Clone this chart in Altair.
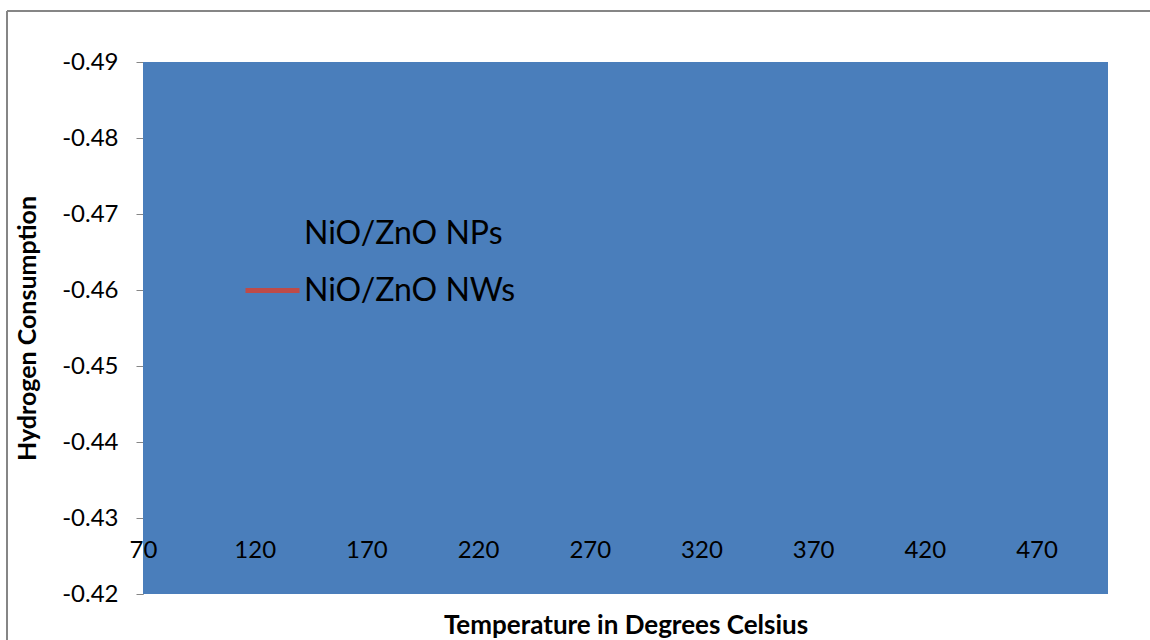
import altair as alt
import pandas as pd

# Data (series lie outside the visible window; only the fill and legend show)
temps = [70, 120, 170, 220, 270, 320, 370, 420, 470, 502]
nps_vals = [-0.50, -0.50, -0.50, -0.50, -0.50, -0.50, -0.50, -0.50, -0.50, -0.50]
nws_vals = [-0.40, -0.40, -0.40, -0.40, -0.40, -0.40, -0.40, -0.40, -0.40, -0.40]
series_names = ["NiO/ZnO NPs", "NiO/ZnO NWs"]
series_colors = ["#4A7EBB", "#BE4B48"]
x_ticks = [70, 120, 170, 220, 270, 320, 370, 420, 470]
y_ticks = [-0.49, -0.48, -0.47, -0.46, -0.45, -0.44, -0.43, -0.42]

df = pd.DataFrame({
    "temp": temps * 2,
    "value": nps_vals + nws_vals,
    "series": [series_names[0]] * len(temps) + [series_names[1]] * len(temps),
})
df_np = df[df.series == series_names[0]]

FONT = "Lato"

x_enc = alt.X("temp:Q",
              scale=alt.Scale(domain=[70, 502], nice=False, zero=False),
              axis=alt.Axis(values=x_ticks, title="Temperature in Degrees Celsius",
                            offset=-77, domain=False, ticks=False, grid=False,
                            labelFontSize=24, labelColor="black", labelPadding=21,
                            labelFlush=False, labelOverlap=False,
                            labelFont=FONT, titleFont=FONT, titleFontSize=26,
                            titleFontWeight="bold", titleColor="black",
                            titlePadding=50, zindex=1))
y_enc = alt.Y("value:Q",
              scale=alt.Scale(domain=[-0.49, -0.42], reverse=True, nice=False, zero=False),
              axis=alt.Axis(values=y_ticks,
                            labelExpr="'-' + format(abs(datum.value), '.2f')",
                            title="Hydrogen Consumption",
                            grid=False, domainColor="#868686", tickColor="#868686",
                            tickSize=7, labelFontSize=24, labelColor="black",
                            labelPadding=18, labelFont=FONT, titleFont=FONT,
                            titleFontSize=25, titleFontWeight="bold",
                            titleColor="black", titlePadding=21))

fill = alt.Chart(df_np).mark_area(clip=True, color=series_colors[0], opacity=1).encode(
    x=x_enc, y=y_enc
)

lines = alt.Chart(df).mark_line(clip=True, strokeWidth=3).encode(
    x=alt.X("temp:Q"),
    y=alt.Y("value:Q"),
    color=alt.Color("series:N",
                    scale=alt.Scale(domain=series_names, range=series_colors),
                    legend=alt.Legend(orient="none", legendX=100, legendY=142,
                                      title=None, symbolType="stroke",
                                      symbolSize=2916, symbolStrokeWidth=5,
                                      labelFontSize=32, labelFont=FONT,
                                      labelColor="black", labelOffset=2,
                                      rowPadding=11, padding=0,
                                      labelLimit=400)),
)

border_left = alt.Chart(df_np).mark_rule(color="#868686", strokeWidth=2).encode(
    x=alt.value(-136), y=alt.value(-51), y2=alt.value(600)
)
border_top = alt.Chart(df_np).mark_rule(color="#868686", strokeWidth=2).encode(
    x=alt.value(-136), x2=alt.value(1100), y=alt.value(-51)
)

chart = alt.layer(fill, lines, border_left, border_top).properties(
    width=965, height=532,
    autosize=alt.AutoSizeParams(type="none"),
    padding={"left": 143, "top": 62, "right": 42, "bottom": 46},
    background="white",
).configure_view(stroke=None)

chart.save("out.html", embed_options={"renderer": "svg", "actions": False})
